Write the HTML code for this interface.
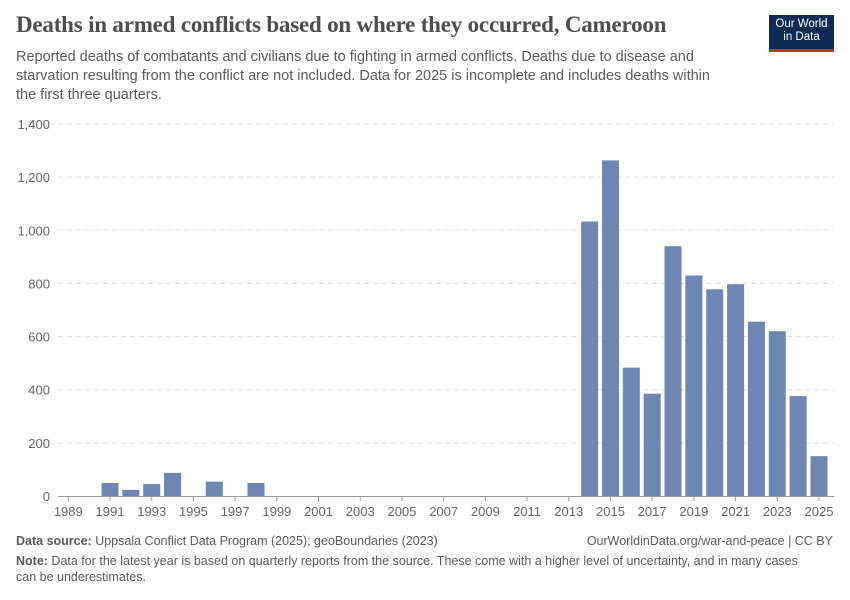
<!DOCTYPE html>
<html><head><meta charset="utf-8"><style>
body{margin:0;background:#fff;font-family:"Liberation Sans",sans-serif;}
#wrap{position:relative;width:850px;height:600px;overflow:hidden;}
h1{position:absolute;left:16px;top:12px;margin:0;font-family:"Liberation Serif",serif;font-size:23px;font-weight:bold;color:#4e4e4e;letter-spacing:-0.2px;white-space:nowrap;}
.sub{position:absolute;left:16px;top:48px;width:712px;font-size:14.5px;line-height:19px;color:#5b5b5b;}
.logo{position:absolute;left:769px;top:15px;width:65px;height:37px;background:#0e2b56;color:#fff;font-size:11.5px;line-height:13px;text-align:center;padding-top:3px;box-sizing:border-box;border-bottom:3px solid #d42b21;}
.foot{position:absolute;left:16px;font-size:12.5px;color:#5b5b5b;line-height:16px;}
</style></head><body><div id="wrap">
<h1>Deaths in armed conflicts based on where they occurred, Cameroon</h1>
<div class="sub">Reported deaths of combatants and civilians due to fighting in armed conflicts. Deaths due to disease and starvation resulting from the conflict are not included. Data for 2025 is incomplete and includes deaths within the first three quarters.</div>
<div class="logo">Our World<br>in Data</div>
<svg id="chart" width="850" height="600" style="position:absolute;left:0;top:0"></svg>
<div class="foot" style="top:533px"><b>Data source:</b> Uppsala Conflict Data Program (2025); geoBoundaries (2023)</div>
<div class="foot" style="top:533px;left:auto;right:17px">OurWorldinData.org/war-and-peace | CC BY</div>
<div class="foot" style="top:553px;width:790px"><b>Note:</b> Data for the latest year is based on quarterly reports from the source. These come with a higher level of uncertainty, and in many cases can be underestimates.</div>
</div>
<script>
const years=[1991,1992,1993,1994,1996,1998,2014,2015,2016,2017,2018,2019,2020,2021,2022,2023,2024,2025];
const deaths=[49,23,45,87,54,49,1033,1263,483,385,940,830,778,797,656,620,376,150];
const yTicks=[0,200,400,600,800,1000,1200,1400];
const xTicks=[1989,1991,1993,1995,1997,1999,2001,2003,2005,2007,2009,2011,2013,2015,2017,2019,2021,2023,2025];
const svg=document.getElementById('chart');const NS='http://www.w3.org/2000/svg';
const x=yr=>68.3+(yr-1989)*(819-68.3)/36;
const y=v=>496-v*(496-124)/1400;
function mk(t,a){const e=document.createElementNS(NS,t);for(const k in a)e.setAttribute(k,a[k]);svg.appendChild(e);return e;}
yTicks.forEach(v=>{
 if(v>0){const l=mk('line',{x1:58,x2:834,y1:y(v),y2:y(v),stroke:'#dddddd','stroke-dasharray':'5,4'});
 
 }
 const t=mk('text',{x:50,y:y(v)+5,'text-anchor':'end','font-size':13,fill:'#666','font-family':'Liberation Sans, sans-serif'});t.textContent=v.toLocaleString('en-US');
 
 
});
years.forEach((yr,i)=>{const r=mk('rect',{x:x(yr)-8.5,y:y(deaths[i]),width:17,height:496-y(deaths[i]),fill:'#6d87b2'});
 
 });
const ax=mk('line',{x1:58,x2:834,y1:496.5,y2:496.5,stroke:'#999'});


xTicks.forEach(yr=>{mk('line',{x1:x(yr),x2:x(yr),y1:496,y2:501,stroke:'#999'});
 const t=mk('text',{x:x(yr),y:516,'text-anchor':'middle','font-size':13,fill:'#666','font-family':'Liberation Sans, sans-serif'});t.textContent=yr;
 
 });
</script></body></html>
